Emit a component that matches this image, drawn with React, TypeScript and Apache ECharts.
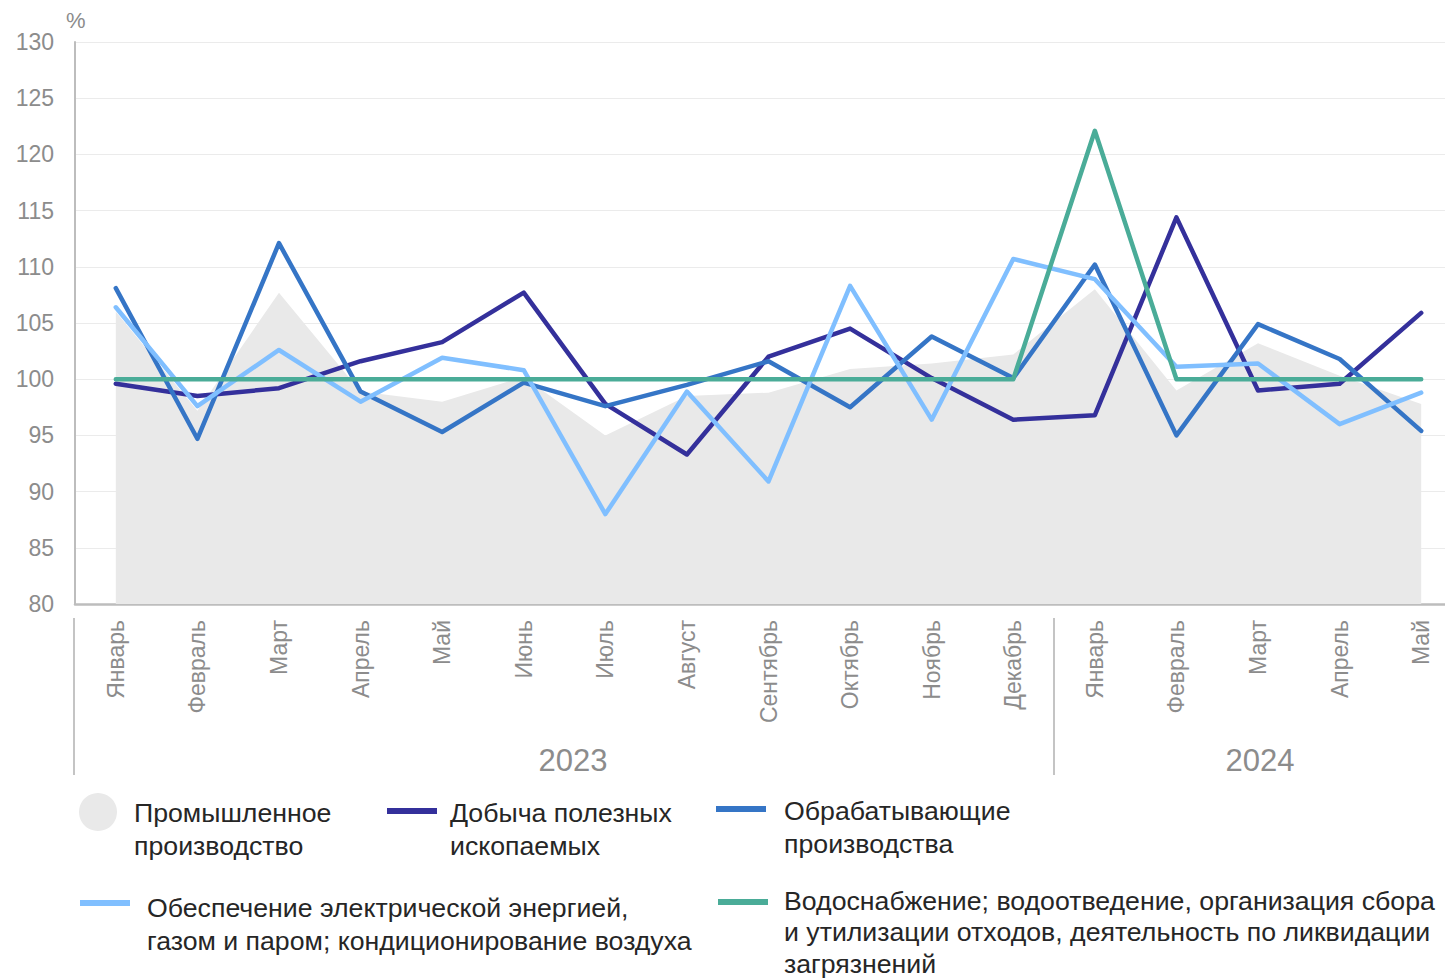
import React, { useEffect, useRef } from "react";
import * as echarts from "echarts";

const months = [
  "Январь", "Февраль", "Март", "Апрель", "Май", "Июнь", "Июль", "Август",
  "Сентябрь", "Октябрь", "Ноябрь", "Декабрь",
  "Январь", "Февраль", "Март", "Апрель", "Май",
];
const years = ["2023", "2024"];

const seriesNames = [
  "Промышленное производство",
  "Добыча полезных ископаемых",
  "Обрабатывающие производства",
  "Обеспечение электрической энергией, газом и паром; кондиционирование воздуха",
  "Водоснабжение; водоотведение, организация сбора и утилизации отходов, деятельность по ликвидации загрязнений",
];
const legendLabels = [
  "Промышленное\nпроизводство",
  "Добыча полезных\nископаемых",
  "Обрабатывающие\nпроизводства",
  "Обеспечение электрической энергией,\nгазом и паром; кондиционирование воздуха",
  "Водоснабжение; водоотведение, организация сбора\nи утилизации отходов, деятельность по ликвидации\nзагрязнений",
];

const industrial = [106.0, 97.2, 107.7, 98.9, 98.0, 100.2, 95.0, 98.5, 98.8, 100.9, 101.4, 102.2, 108.0, 99.0, 103.2, 100.3, 97.8];
const mining = [99.6, 98.5, 99.2, 101.6, 103.3, 107.7, 97.8, 93.3, 102.0, 104.5, 100.1, 96.4, 96.8, 114.4, 99.0, 99.6, 105.9];
const manufacturing = [108.1, 94.7, 112.1, 98.9, 95.3, 99.7, 97.6, 99.5, 101.6, 97.5, 103.8, 100.1, 110.2, 95.0, 104.9, 101.8, 95.4];
const energy = [106.4, 97.6, 102.6, 98.0, 101.9, 100.8, 88.0, 98.9, 90.9, 108.3, 96.4, 110.7, 108.9, 101.1, 101.4, 96.0, 98.8];
const water = [100, 100, 100, 100, 100, 100, 100, 100, 100, 100, 100, 100, 122.1, 100, 100, 100, 100];

const colors = ["#e9e9e9", "#34309b", "#3575c6", "#80bfff", "#4aac98"];
const FONT = "'Liberation Sans', Arial, sans-serif";
const AXIS_GRAY = "#8c8c8c";

export default function App() {
  const ref = useRef<HTMLDivElement>(null);

  useEffect(() => {
    if (!ref.current) return;
    const chart = echarts.init(ref.current, null, { renderer: "svg" });

    const lineSeries = (i: number, data: number[]) => ({
      name: seriesNames[i],
      type: "line",
      data,
      symbol: "none",
      z: 2 + i,
      lineStyle: { color: colors[i], width: 4.5, cap: "round", join: "round" },
      itemStyle: { color: colors[i] },
    });

    const legendText = (x: number, y: number, text: string, lh = 33) => ({
      type: "text",
      x,
      y,
      style: {
        text,
        font: `26.7px ${FONT}`,
        fill: "#262626",
        lineHeight: lh,
        verticalAlign: "top",
        align: "left",
      },
    });
    const legendLine = (x: number, y: number, color: string) => ({
      type: "rect",
      shape: { x, y, width: 50, height: 6 },
      style: { fill: color },
    });

    chart.setOption({
      animation: false,
      grid: { left: 75, top: 42, bottom: 376, right: 0, containLabel: false },
      xAxis: {
        type: "category",
        data: months,
        boundaryGap: true,
        axisLine: { show: true, lineStyle: { color: "#bdbdbd", width: 2.5 } },
        axisTick: { show: false },
        axisLabel: {
          rotate: 90,
          interval: 0,
          margin: 16,
          color: AXIS_GRAY,
          fontSize: 23,
          fontFamily: FONT,
        },
        splitLine: { show: false },
      },
      yAxis: {
        type: "value",
        min: 80,
        max: 130,
        interval: 5,
        axisLine: { show: true, lineStyle: { color: "#bdbdbd", width: 2 } },
        axisTick: { show: false },
        axisLabel: { color: AXIS_GRAY, fontSize: 23, fontFamily: FONT, margin: 21 },
        splitLine: { show: true, lineStyle: { color: "#ebebeb", width: 1 } },
      },
      series: [
        {
          name: seriesNames[0],
          type: "line",
          data: industrial,
          symbol: "none",
          z: 1,
          lineStyle: { width: 0, color: colors[0] },
          areaStyle: { color: colors[0], opacity: 1 },
          itemStyle: { color: colors[0] },
        },
        lineSeries(1, mining),
        lineSeries(2, manufacturing),
        lineSeries(3, energy),
        lineSeries(4, water),
      ],
      graphic: [
        {
          type: "text",
          x: 66,
          y: 9,
          style: { text: "%", font: `22px ${FONT}`, fill: AXIS_GRAY },
        },
        {
          type: "line",
          shape: { x1: 74, y1: 618, x2: 74, y2: 775 },
          style: { stroke: "#c4c4c4", lineWidth: 2 },
        },
        {
          type: "line",
          shape: { x1: 1054, y1: 618, x2: 1054, y2: 775 },
          style: { stroke: "#c4c4c4", lineWidth: 2 },
        },
        {
          type: "text",
          x: 573,
          y: 760,
          style: { text: years[0], font: `31px ${FONT}`, fill: AXIS_GRAY, align: "center", verticalAlign: "middle" },
        },
        {
          type: "text",
          x: 1260,
          y: 760,
          style: { text: years[1], font: `31px ${FONT}`, fill: AXIS_GRAY, align: "center", verticalAlign: "middle" },
        },
        { type: "circle", shape: { cx: 98, cy: 812, r: 19 }, style: { fill: colors[0] } },
        legendText(134, 796, legendLabels[0]),
        legendLine(387, 808, colors[1]),
        legendText(450, 796, legendLabels[1]),
        legendLine(716, 806, colors[2]),
        legendText(784, 794, legendLabels[2]),
        legendLine(80, 900, colors[3]),
        legendText(147, 891, legendLabels[3]),
        legendLine(718, 899, colors[4]),
        legendText(784, 885, legendLabels[4], 31.5),
      ],
    });

    return () => chart.dispose();
  }, []);

  return (
    <div style={{ position: "fixed", left: 0, top: 0, width: 1445, height: 980, overflow: "hidden", background: "#fff" }}>
      <div ref={ref} style={{ position: "absolute", left: 0, top: 0, width: 1462, height: 980 }} />
    </div>
  );
}
